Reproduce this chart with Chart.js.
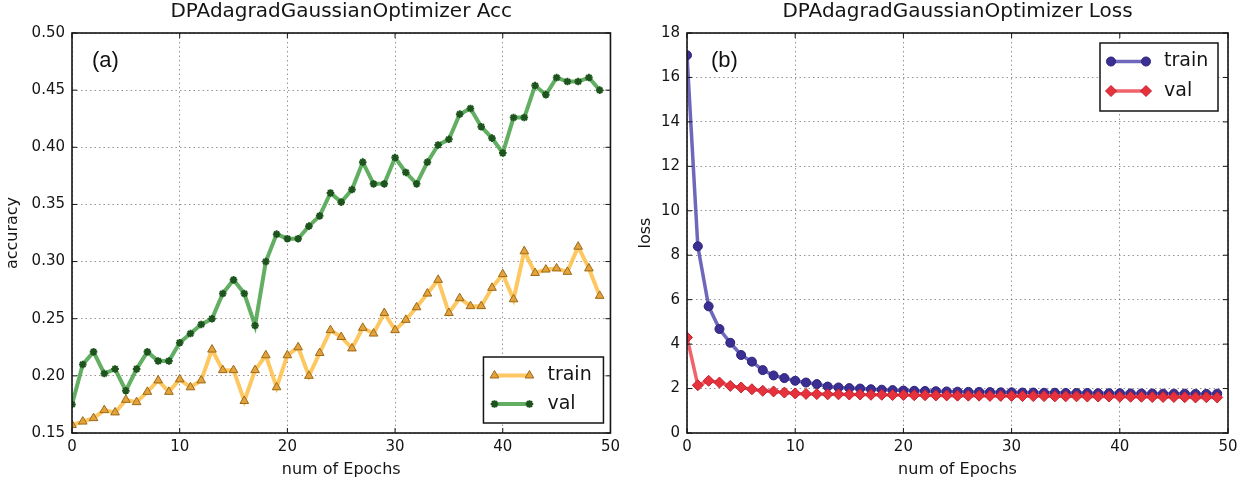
<!DOCTYPE html>
<html>
<head>
<meta charset="utf-8">
<script src="https://cdn.jsdelivr.net/npm/chart.js@4.4.0/dist/chart.umd.min.js"></script>
<style>
  html, body { margin: 0; padding: 0; background: #fff; }
  .panel { position: absolute; top: 0; width: 625px; height: 485px; }
</style>
</head>
<body>
<div class="panel" style="left:0"><canvas id="accChart" width="625" height="485"></canvas></div>
<div class="panel" style="left:622px"><canvas id="lossChart" width="625" height="485"></canvas></div>
<script>
const epochs = [0,1,2,3,4,5,6,7,8,9,10,11,12,13,14,15,16,17,18,19,20,21,22,23,24,
  25,26,27,28,29,30,31,32,33,34,35,36,37,38,39,40,41,42,43,44,45,46,47,48,49];

const accTrain = [0.157,0.160,0.163,0.170,0.168,0.179,0.177,0.186,0.196,0.186,
  0.197,0.190,0.196,0.223,0.205,0.205,0.178,0.205,0.218,0.190,
  0.218,0.225,0.200,0.220,0.240,0.234,0.224,0.242,0.237,0.255,
  0.240,0.249,0.260,0.272,0.284,0.255,0.268,0.261,0.261,0.277,
  0.289,0.267,0.309,0.290,0.293,0.294,0.291,0.313,0.294,0.270];

const accVal = [0.175,0.210,0.221,0.202,0.206,0.187,0.206,0.221,0.213,0.213,
  0.229,0.237,0.245,0.250,0.272,0.284,0.272,0.244,0.300,0.324,
  0.320,0.320,0.331,0.340,0.360,0.352,0.363,0.387,0.368,0.368,
  0.391,0.378,0.368,0.387,0.402,0.407,0.429,0.434,0.418,0.408,
  0.395,0.426,0.426,0.454,0.446,0.461,0.4575,0.4575,0.461,0.450];

const lossTrain = [17.0,8.4,5.7,4.68,4.06,3.51,3.21,2.83,2.59,2.47,
  2.35,2.27,2.20,2.09,2.05,2.02,2.00,1.97,1.95,1.93,
  1.91,1.90,1.89,1.88,1.87,1.86,1.85,1.85,1.84,1.83,
  1.83,1.82,1.82,1.81,1.81,1.80,1.80,1.80,1.79,1.79,
  1.79,1.78,1.78,1.78,1.77,1.77,1.77,1.76,1.76,1.77];

const lossVal = [4.30,2.15,2.35,2.27,2.12,2.05,1.97,1.90,1.87,1.82,
  1.78,1.76,1.75,1.74,1.74,1.73,1.73,1.72,1.72,1.71,
  1.71,1.70,1.70,1.69,1.69,1.68,1.68,1.68,1.67,1.67,
  1.67,1.66,1.66,1.66,1.65,1.65,1.65,1.64,1.64,1.64,
  1.63,1.63,1.63,1.62,1.62,1.62,1.61,1.60,1.61,1.60];

const FONT = 'DejaVu Sans';
const INK = '#151515';

const xy = vals => epochs.map((e, i) => ({ x: e, y: vals[i] }));

// black box round the plot, with short inward ticks on all four sides, plus the panel letter
const frame = {
  id: 'frame',
  afterDatasetsDraw(chart, args, opts) {
    const { ctx, chartArea: a, scales } = chart;
    ctx.save();
    ctx.strokeStyle = INK;
    ctx.lineWidth = 1;
    ctx.beginPath();
    scales.x.ticks.forEach(t => {
      const px = scales.x.getPixelForValue(t.value);
      ctx.moveTo(px, a.bottom); ctx.lineTo(px, a.bottom - 5);
      ctx.moveTo(px, a.top); ctx.lineTo(px, a.top + 5);
    });
    scales.y.ticks.forEach(t => {
      const py = scales.y.getPixelForValue(t.value);
      ctx.moveTo(a.left, py); ctx.lineTo(a.left + 5, py);
      ctx.moveTo(a.right, py); ctx.lineTo(a.right - 5, py);
    });
    ctx.stroke();
    ctx.lineWidth = 1.6;
    ctx.strokeRect(a.left, a.top, a.right - a.left, a.bottom - a.top);
    ctx.fillStyle = '#111';
    ctx.font = '22px "Liberation Sans"';
    ctx.textBaseline = 'middle';
    ctx.fillText(opts.tag, a.left + opts.dx, a.top + 28);
    ctx.restore();
  }
};

// matplotlib-style legend: framed box, two markers joined by a line, label on the right
const boxLegend = {
  id: 'boxLegend',
  afterDraw(chart, args, opts) {
    const { ctx, chartArea: a } = chart;
    const sets = chart.data.datasets;
    const w = opts.width, rowH = opts.rowH;
    const h = rowH * sets.length + 9;
    const x0 = a.right - opts.right - w;
    const y0 = opts.corner === 'top' ? a.top + opts.gap : a.bottom - opts.gap - h;
    ctx.save();
    ctx.fillStyle = '#fff';
    ctx.fillRect(x0, y0, w, h);
    ctx.strokeStyle = INK;
    ctx.lineWidth = 1.5;
    ctx.strokeRect(x0, y0, w, h);
    sets.forEach((ds, i) => {
      const cy = y0 + 18.5 + i * rowH;
      const sx1 = x0 + 11, sx2 = x0 + 46;
      ctx.strokeStyle = ds.borderColor;
      ctx.lineWidth = ds.borderWidth;
      ctx.beginPath(); ctx.moveTo(sx1, cy); ctx.lineTo(sx2, cy); ctx.stroke();
      ctx.fillStyle = ds.pointBackgroundColor;
      ctx.strokeStyle = ds.pointBorderColor;
      ctx.lineWidth = ds.pointBorderWidth;
      [sx1, sx2].forEach(px => Chart.helpers.drawPoint(ctx, {
        pointStyle: ds.pointStyle, radius: ds.pointRadius, rotation: 0, borderWidth: ds.pointBorderWidth
      }, px, cy));
      ctx.fillStyle = INK;
      ctx.font = '19px "' + FONT + '"';
      ctx.textBaseline = 'middle';
      ctx.fillText(ds.label, x0 + 64, cy);
    });
    ctx.restore();
  }
};

function axisOptions(cfg) {
  const tickFont = { family: FONT, size: 15 };
  const gridStyle = { color: 'rgba(95,75,75,0.6)', lineWidth: 1, drawTicks: false };
  return {
    x: {
      type: 'linear', min: 0, max: 50,
      ticks: { stepSize: 10, color: INK, font: tickFont, padding: 5, maxRotation: 0 },
      grid: gridStyle,
      border: { display: false, dash: [1.5, 3] },
      title: { display: true, text: 'num of Epochs', color: INK,
        font: { family: FONT, size: 16 }, padding: { top: 0, bottom: 6 } },
      afterFit: s => { s.height = 52; }
    },
    y: {
      min: cfg.yMin, max: cfg.yMax,
      ticks: { stepSize: cfg.yStep, color: INK, font: tickFont, padding: 7, callback: cfg.yFormat },
      grid: gridStyle,
      border: { display: false, dash: [1.5, 3] },
      title: { display: true, text: cfg.yTitle, color: INK,
        font: { family: FONT, size: 16 }, padding: { top: cfg.yTitlePad, bottom: 0 } },
      afterFit: s => { s.width = cfg.yWidth; }
    }
  };
}

function chartOptions(cfg) {
  return {
    responsive: false,
    animation: false,
    events: [],
    layout: { padding: { left: 0, right: cfg.padRight, top: 0, bottom: 0 } },
    plugins: {
      legend: { display: false },
      tooltip: { enabled: false },
      title: { display: true, text: cfg.title, color: INK, fullSize: false,
        font: { family: FONT, size: 20, weight: 'normal' }, padding: { top: 0, bottom: 9 } },
      frame: { tag: cfg.tag, dx: cfg.tagDx },
      boxLegend: cfg.legend
    },
    scales: axisOptions(cfg)
  };
}

// accuracy panel
new Chart(document.getElementById('accChart'), {
  type: 'line',
  data: {
    datasets: [{
      label: 'train',
      data: xy(accTrain),
      borderColor: 'rgba(253,190,70,0.85)',
      borderWidth: 4,
      pointStyle: 'triangle',
      pointRadius: 5,
      pointBackgroundColor: '#e4a23c',
      pointBorderColor: '#9c6a18',
      pointBorderWidth: 1,
      order: 1
    }, {
      label: 'val',
      data: xy(accVal),
      borderColor: 'rgba(70,160,70,0.85)',
      borderWidth: 4,
      pointStyle: 'star',
      pointRadius: 3.8,
      pointBackgroundColor: '#1d541d',
      pointBorderColor: '#1d541d',
      pointBorderWidth: 2,
      order: 0
    }]
  },
  options: chartOptions({
    title: 'DPAdagradGaussianOptimizer Acc',
    yMin: 0.15, yMax: 0.5, yStep: 0.05, yFormat: v => v.toFixed(2),
    yTitle: 'accuracy', yTitlePad: 3, yWidth: 72, padRight: 14,
    tag: '(a)', tagDx: 20,
    legend: { corner: 'bottom', width: 120, rowH: 28.5, right: 7, gap: 10 }
  }),
  plugins: [frame, boxLegend]
});

// loss panel
new Chart(document.getElementById('lossChart'), {
  type: 'line',
  data: {
    datasets: [{
      label: 'train',
      data: xy(lossTrain),
      borderColor: 'rgba(75,65,170,0.8)',
      borderWidth: 3.5,
      pointStyle: 'circle',
      pointRadius: 4.5,
      pointBackgroundColor: '#3b2f94',
      pointBorderColor: '#2c2276',
      pointBorderWidth: 1,
      order: 1
    }, {
      label: 'val',
      data: xy(lossVal),
      borderColor: 'rgba(236,60,70,0.8)',
      borderWidth: 3.5,
      pointStyle: 'rectRot',
      pointRadius: 5.5,
      pointBackgroundColor: '#e6323c',
      pointBorderColor: '#c41f2c',
      pointBorderWidth: 1,
      order: 0
    }]
  },
  options: chartOptions({
    title: 'DPAdagradGaussianOptimizer Loss',
    yMin: 0, yMax: 18, yStep: 2, yFormat: v => String(v),
    yTitle: 'loss', yTitlePad: 14, yWidth: 65, padRight: 19,
    tag: '(b)', tagDx: 24,
    legend: { corner: 'top', width: 118, rowH: 29.5, right: 10, gap: 10 }
  }),
  plugins: [frame, boxLegend]
});
</script>
</body>
</html>
